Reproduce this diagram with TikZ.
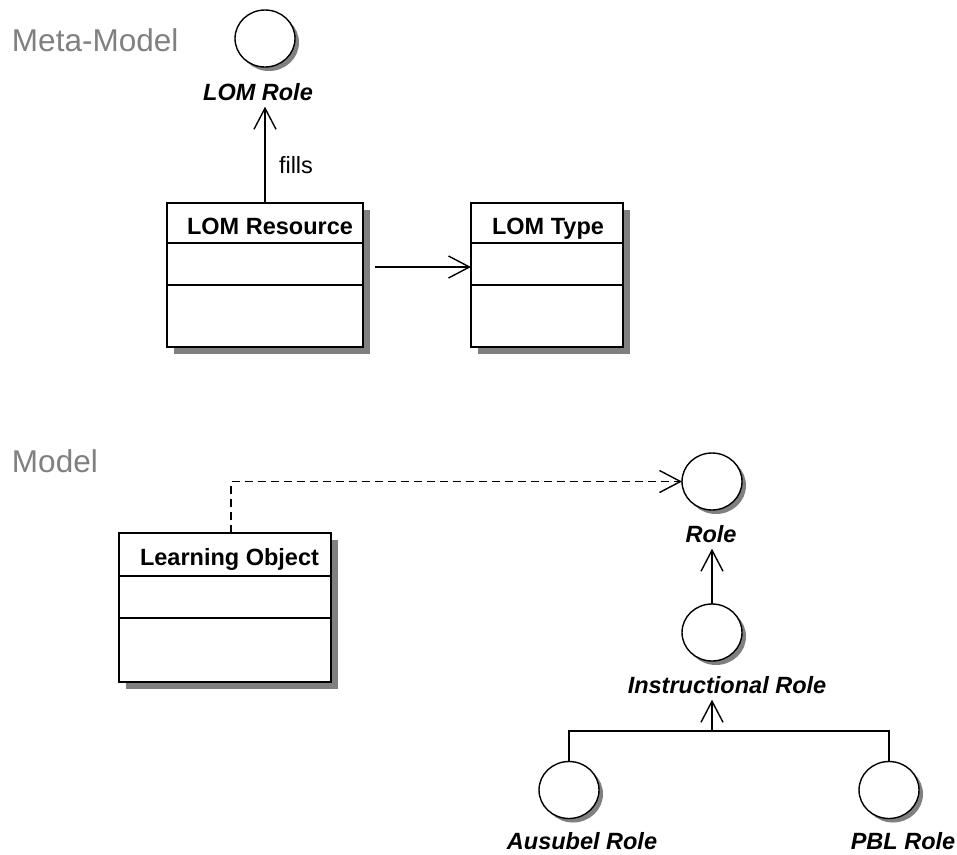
\documentclass[tikz,border=0pt]{standalone}
\usepackage{fontspec}
\setmainfont{Liberation Sans}
\usetikzlibrary{arrows.meta,shadows,shapes.geometric}

\begin{document}
\begin{tikzpicture}[x=1pt,y=-1pt,
  every node/.style={inner sep=0pt, outer sep=0pt},
  heading/.style={font=\fontsize{31.5}{36}\selectfont, text=black!50, anchor=base west},
  classbox/.style={draw, line width=1.4pt, fill=white, rectangle,
    drop shadow={shadow xshift=6.5pt, shadow yshift=-6.5pt, fill=black!50, opacity=1}},
  classname/.style={font=\fontsize{23.5}{28}\selectfont\bfseries, anchor=base},
  iface/.style={draw, line width=1.4pt, fill=white, ellipse, minimum width=60pt, minimum height=57pt,
    drop shadow={shadow xshift=4pt, shadow yshift=-4pt, fill=black!50, opacity=1}},
  ifacename/.style={font=\fontsize{23.5}{28}\selectfont\bfseries\itshape, anchor=base, outer sep=6.5pt},
  plainlabel/.style={font=\fontsize{23.5}{28}\selectfont, anchor=base west},
  arr/.style={-{Straight Barb[length=21pt,width=22pt]}, line width=1.4pt},
  link/.style={line width=1.4pt},
  divider/.style={line width=1.2pt},
  dashlink/.style={dash pattern=on 8pt off 5pt}
]
\useasboundingbox (0,0) rectangle (957,854);

% section headings
\node[heading] (hmeta) at (12,51) {Meta-Model};
\node[heading] (hmodel) at (12,472) {Model};

% ---- meta-model ----
\node[iface] (lomrole) at (265,38.5) {};
\node[ifacename] (lomroleT) at (258,100) {LOM Role};

\node[classbox, minimum width=196pt, minimum height=144pt] (lomres) at (265,275) {};
\node[classname] (lomresT) at (270,234) {LOM Resource};
\draw[divider] ([yshift=-40pt]lomres.north west) -- ([yshift=-40pt]lomres.north east);
\draw[divider] ([yshift=-82pt]lomres.north west) -- ([yshift=-82pt]lomres.north east);

\node[classbox, minimum width=152pt, minimum height=144pt] (lomtype) at (547,275) {};
\node[classname] (lomtypeT) at (548,234) {LOM Type};
\draw[divider] ([yshift=-40pt]lomtype.north west) -- ([yshift=-40pt]lomtype.north east);
\draw[divider] ([yshift=-82pt]lomtype.north west) -- ([yshift=-82pt]lomtype.north east);

\draw[arr] (lomres.north) -- (lomres.north |- lomroleT.south);
\node[plainlabel] (fillsT) at (279,173) {fills};
\draw[arr] ([shift={(12pt,8pt)}]lomres.east) -- ([yshift=8pt]lomtype.west);

% ---- model ----
\node[classbox, minimum width=212pt, minimum height=149pt] (lo) at (225,607.5) {};
\node[classname] (loT) at (229.5,565) {Learning Object};
\draw[divider] ([yshift=-43pt]lo.north west) -- ([yshift=-43pt]lo.north east);
\draw[divider] ([yshift=-85pt]lo.north west) -- ([yshift=-85pt]lo.north east);

\node[iface] (role) at (712,481.5) {};
\node[ifacename] (roleT) at (711,542) {Role};

\node[iface] (inst) at (712,632.5) {};
\node[ifacename] (instT) at (727,693) {Instructional Role};

\node[iface] (aus) at (569,790) {};
\node[ifacename] (ausT) at (582,849) {Ausubel Role};

\node[iface] (pbl) at (889,790) {};
\node[ifacename] (pblT) at (903,849) {PBL Role};

\draw[arr, dashlink] ([xshift=6pt]lo.north) |- (role.west);
\draw[arr] (inst.north) -- (inst.north |- roleT.south);

\coordinate (fork) at (712,731);
\draw[link] (aus.north) |- (fork) -| (pbl.north);
\draw[arr] (fork) -- (fork |- instT.south);
\end{tikzpicture}
\end{document}
